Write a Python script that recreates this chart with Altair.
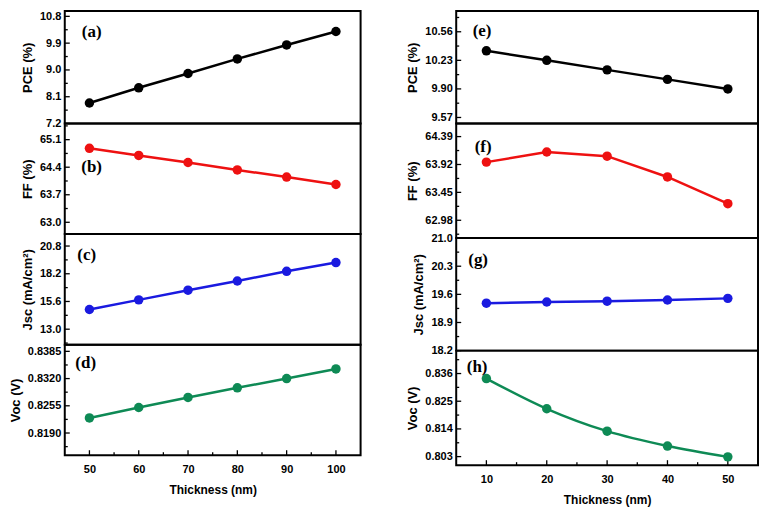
import altair as alt
import pandas as pd

# ---- data ----
left_x = [50, 60, 70, 80, 90, 100]
pce_left = [7.89, 8.40, 8.88, 9.37, 9.84, 10.29]
ff_left = [64.88, 64.70, 64.52, 64.33, 64.15, 63.96]
jsc_left = [14.85, 15.75, 16.66, 17.52, 18.43, 19.25]
voc_left = [0.8226, 0.8251, 0.8275, 0.8298, 0.8320, 0.8343]

right_x = [10, 20, 30, 40, 50]
pce_right = [10.34, 10.23, 10.12, 10.01, 9.90]
ff_right = [63.96, 64.13, 64.06, 63.71, 63.26]
jsc_right = [19.38, 19.41, 19.43, 19.46, 19.50]
voc_right = [0.8340, 0.8220, 0.8131, 0.8072, 0.8029]

# tick labels
left_xticks = [50, 60, 70, 80, 90, 100]
right_xticks = [10, 20, 30, 40, 50]
ticks_a = [7.2, 8.1, 9.0, 9.9, 10.8]
ticks_b = [63.0, 63.7, 64.4, 65.1]
ticks_c = [13.0, 15.6, 18.2, 20.8]
ticks_d = [0.8190, 0.8255, 0.8320, 0.8385]
ticks_e = [9.57, 9.90, 10.23, 10.56]
ticks_f = [62.98, 63.45, 63.92, 64.39]
ticks_g = [18.2, 18.9, 19.6, 20.3, 21.0]
ticks_h = [0.803, 0.814, 0.825, 0.836]

BLACK = "#000000"
RED = "#ee1111"
BLUE = "#1a1ae0"
GREEN = "#0e8a55"

FONT = "Liberation Sans"


def minors(ticks, domain):
    step = ticks[1] - ticks[0]
    cands = [ticks[0] - step / 2] + [t + step / 2 for t in ticks]
    return [c for c in cands if domain[0] < c < domain[1]]


def panel(xs, ys, color, label, title, yticks, ydomain, fmt, xdomain, xticks,
          width, height, bottom, lpos, interp="linear"):
    df = pd.DataFrame({"x": xs, "y": ys})
    if bottom:
        x_axis = alt.Axis(values=xticks, format="d", title="Thickness (nm)",
                          labelPadding=8, titlePadding=10, titleFontSize=12)
    else:
        x_axis = None
    xenc = alt.X("x:Q", scale=alt.Scale(domain=xdomain, nice=False, zero=False), axis=x_axis)
    yenc = alt.Y("y:Q", scale=alt.Scale(domain=ydomain, nice=False, zero=False),
                 axis=alt.Axis(values=yticks, format=fmt, title=title))

    line = alt.Chart(df).mark_line(color=color, strokeWidth=2.5, interpolate=interp).encode(x=xenc, y=yenc)
    pts = alt.Chart(df).mark_circle(color=color, size=90, opacity=1).encode(x=xenc, y=yenc)

    ymaj = alt.Chart(pd.DataFrame({"y": yticks})).mark_rule(color="black", strokeWidth=1.3).encode(
        y=yenc, x=alt.value(0), x2=alt.value(5))
    ymin = alt.Chart(pd.DataFrame({"y": minors(yticks, ydomain)})).mark_rule(color="black", strokeWidth=1.3).encode(
        y=yenc, x=alt.value(0), x2=alt.value(3))
    layers = [ymaj, ymin]
    if bottom:
        xmaj = alt.Chart(pd.DataFrame({"x": xticks})).mark_rule(color="black", strokeWidth=1.3).encode(
            x=xenc, y=alt.value(height), y2=alt.value(height - 5))
        xmin = alt.Chart(pd.DataFrame({"x": minors(xticks, xdomain)})).mark_rule(color="black", strokeWidth=1.3).encode(
            x=xenc, y=alt.value(height), y2=alt.value(height - 3))
        layers += [xmaj, xmin]
    txt = alt.Chart(pd.DataFrame({"t": [label]})).mark_text(
        font="Liberation Serif", fontWeight="bold", fontSize=17, color="black"
    ).encode(text="t:N", x=alt.value(lpos[0]), y=alt.value(lpos[1]))
    return alt.layer(*layers, line, pts, txt).properties(width=width, height=height)


LW = 297
RW = 303
LXD = [45, 105]
RXD = [5, 55]

a = panel(left_x, pce_left, BLACK, "(a)", "PCE (%)", ticks_a, [7.2, 10.98], ".1f", LXD, left_xticks, LW, 113, False, (27, 21))
b = panel(left_x, ff_left, RED, "(b)", "FF (%)", ticks_b, [62.7, 65.51], ".1f", LXD, left_xticks, LW, 111, False, (27, 44))
c = panel(left_x, jsc_left, BLUE, "(c)", "Jsc (mA/cm²)", ticks_c, [11.55, 21.92], ".1f", LXD, left_xticks, LW, 111, False, (22, 21))
d = panel(left_x, voc_left, GREEN, "(d)", "Voc (V)", ticks_d, [0.8137, 0.8401], ".4f", LXD, left_xticks, LW, 111, True, (21, 18))

e = panel(right_x, pce_right, BLACK, "(e)", "PCE (%)", ticks_e, [9.50, 10.80], ".2f", RXD, right_xticks, RW, 113, False, (26, 20))
f = panel(right_x, ff_right, RED, "(f)", "FF (%)", ticks_f, [62.68, 64.61], ".2f", RXD, right_xticks, RW, 115, False, (27, 24))
g = panel(right_x, jsc_right, BLUE, "(g)", "Jsc (mA/cm²)", ticks_g, [18.2, 21.0], ".1f", RXD, right_xticks, RW, 113, False, (22, 22))
h = panel(right_x, voc_right, GREEN, "(h)", "Voc (V)", ticks_h, [0.7996, 0.8451], ".3f", RXD, right_xticks, RW, 115, True, (21, 16), interp="monotone")

left = alt.vconcat(a, b, c, d, spacing=0, bounds="flush")
right = alt.vconcat(e, f, g, h, spacing=0, bounds="flush")

chart = alt.hconcat(left, right, spacing=44).properties(padding=0).configure_view(
    stroke="black", strokeWidth=2
).configure_axis(
    domain=False, ticks=False, tickSize=0, grid=False,
    labelFont=FONT, labelFontWeight="bold", labelFontSize=11, labelColor="black",
    titleFont=FONT, titleFontWeight="bold", titleFontSize=13, titleColor="black",
    labelPadding=4, titlePadding=5
)

chart.save("out.html", embed_options={"renderer": "svg", "actions": False})
